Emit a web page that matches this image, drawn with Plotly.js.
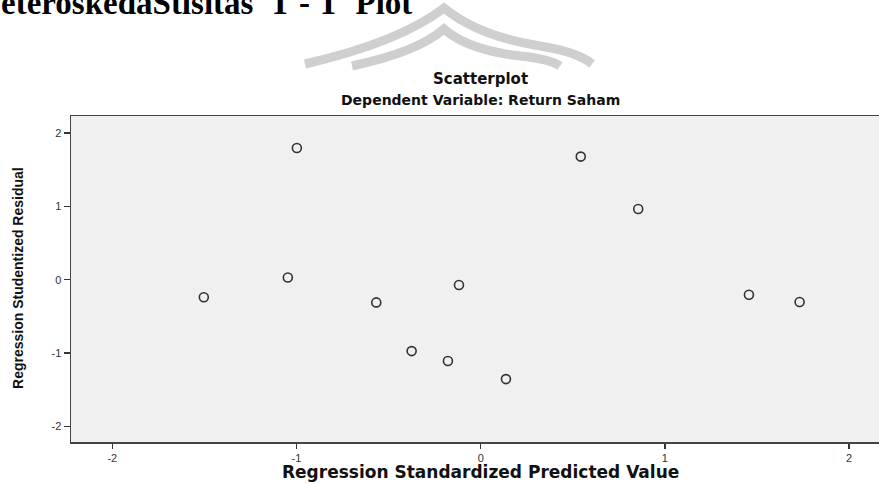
<!DOCTYPE html>
<html>
<head>
<meta charset="utf-8">
<script src="https://cdn.plot.ly/plotly-3.0.1.min.js"></script>
<style>html,body{margin:0;padding:0;background:#fff;}#chart{width:879px;height:484px;}</style>
</head>
<body>
<div id="chart"></div>
<script>
// Data
var predictedValue = [-1.503, -1.047, -0.998, -0.567, -0.375, -0.178, -0.118, 0.137, 0.543, 0.855, 1.456, 1.731];
var studentizedResidual = [-0.24, 0.03, 1.795, -0.31, -0.974, -1.11, -0.073, -1.356, 1.678, 0.963, -0.205, -0.305];
var xTicks = [-2, -1, 0, 1, 2];
var yTicks = [-2, -1, 0, 1, 2];

var W = 879, H = 484, ML = 71, MR = 0, MT = 116, MB = 42;
var PW = W - ML - MR, PH = H - MT - MB;
function px(x) { return ((x - ML) / PW).toFixed(4); }
function py(y) { return (1 + (MT - y) / PH).toFixed(4); }
function P(x, y) { return px(x) + ',' + py(y); }

var outer = 'M ' + P(305, 64) + ' Q ' + P(400, 42) + ' ' + P(444, 8) +
            ' Q ' + P(478, 36) + ' ' + P(540, 46) + ' Q ' + P(578, 52) + ' ' + P(592, 64);
var inner = 'M ' + P(352, 66) + ' Q ' + P(418, 52) + ' ' + P(444, 29) +
            ' Q ' + P(468, 50) + ' ' + P(520, 56) + ' Q ' + P(550, 59) + ' ' + P(560, 66);

var trace = {
  x: predictedValue,
  y: studentizedResidual,
  type: 'scatter',
  mode: 'markers',
  marker: { symbol: 'circle-open', size: 9, color: '#333333', line: { width: 1.6, color: '#333333' } },
  hoverinfo: 'x+y',
  showlegend: false
};

var layout = {
  width: W, height: H,
  margin: { l: ML, r: MR, t: MT, b: MB, pad: 0 },
  paper_bgcolor: '#ffffff',
  plot_bgcolor: '#f0f0f0',
  font: { family: 'Arial, "Liberation Sans", sans-serif', color: '#333' },
  xaxis: {
    range: [-2.224, 2.162],
    tickvals: xTicks,
    ticktext: xTicks.map(String),
    ticks: 'outside', ticklen: 5, tickwidth: 1.5, tickcolor: '#333',
    showgrid: false, zeroline: false,
    showline: true, linecolor: '#444', linewidth: 1.5, mirror: true,
    tickfont: { size: 11, color: '#333', family: 'Arial, "Liberation Sans", sans-serif' }
  },
  yaxis: {
    range: [-2.214, 2.232],
    tickvals: yTicks,
    ticktext: yTicks.map(String),
    ticks: 'outside', ticklen: 6, tickwidth: 1.5, tickcolor: '#333',
    showgrid: false, zeroline: false,
    showline: true, linecolor: '#444', linewidth: 1.5, mirror: true,
    tickfont: { size: 11, color: '#333', family: 'Arial, "Liberation Sans", sans-serif' }
  },
  shapes: [
    { type: 'path', xref: 'paper', yref: 'paper', path: outer, line: { color: '#cfcfcf', width: 9 }, layer: 'below' },
    { type: 'path', xref: 'paper', yref: 'paper', path: inner, line: { color: '#cfcfcf', width: 9 }, layer: 'below' }
  ],
  annotations: [
    { text: '<b>eteroskedaStisitas  T - T  Plot</b>', xref: 'paper', yref: 'paper', x: px(-1), y: py(23),
      xanchor: 'left', yanchor: 'bottom', showarrow: false,
      font: { family: '"Liberation Serif", "Times New Roman", serif', size: 33, color: '#000' } },
    { text: '<b>Scatterplot</b>', xref: 'x', yref: 'paper', x: 0, y: py(79),
      xanchor: 'center', yanchor: 'middle', showarrow: false,
      font: { family: '"DejaVu Sans", sans-serif', size: 15, color: '#111' } },
    { text: '<b>Dependent Variable: Return Saham</b>', xref: 'x', yref: 'paper', x: 0, y: py(100),
      xanchor: 'center', yanchor: 'middle', showarrow: false,
      font: { family: '"DejaVu Sans", sans-serif', size: 14, color: '#111' } },
    { text: '<b>Regression Standardized Predicted Value</b>', xref: 'x', yref: 'paper', x: 0, y: py(472),
      xanchor: 'center', yanchor: 'middle', showarrow: false,
      font: { family: '"DejaVu Sans", sans-serif', size: 17, color: '#111' } },
    { text: '<b>Regression Studentized Residual</b>', xref: 'paper', yref: 'paper', x: px(18), y: py(278),
      xanchor: 'center', yanchor: 'middle', showarrow: false, textangle: -90,
      font: { family: '"Liberation Sans Narrow", "Arial Narrow", "Liberation Sans", sans-serif', size: 14, color: '#111' } }
  ]
};

Plotly.newPlot('chart', [trace], layout, { displayModeBar: false, staticPlot: true });
</script>
</body>
</html>
